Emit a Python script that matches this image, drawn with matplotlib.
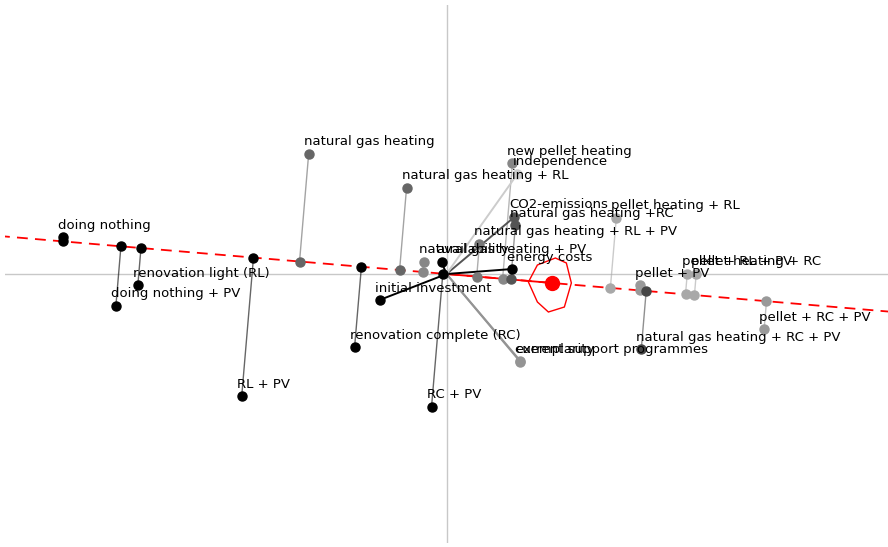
import numpy as np
import matplotlib
matplotlib.use("Agg")
import matplotlib.pyplot as plt

# Alternatives in the GAIA plane
alt_names = [
    "doing nothing", "doing nothing + PV", "renovation light (RL)", "RL + PV",
    "natural gas heating", "renovation complete (RC)", "natural gas heating + RL",
    "natural gas heating + PV", "RC + PV", "natural gas heating + RL + PV",
    "new pellet heating", "natural gas heating +RC", "pellet heating + RL",
    "pellet + PV", "natural gas heating + RC + PV", "pellet + RL + PV",
    "pellet heating + RC", "pellet + RC + PV",
]
alt_x = [-0.960, -0.8275, -0.7725, -0.5125, -0.345, -0.230, -0.100, -0.0575, -0.0375,
         0.0825, 0.165, 0.1725, 0.425, 0.485, 0.4875, 0.6025, 0.625, 0.795]
alt_y = [0.0925, -0.080, -0.0275, -0.305, 0.300, -0.1825, 0.215, 0.030, -0.3325,
         0.075, 0.2775, 0.1225, 0.140, -0.0275, -0.1875, 0.0, 0.0, -0.1375]
alt_gray = [0.0, 0.0, 0.0, 0.0, 0.40, 0.0, 0.40, 0.53, 0.0,
            0.47, 0.53, 0.33, 0.66, 0.60, 0.27, 0.66, 0.66, 0.60]

# Criteria vectors
crit_names = ["initial investment", "energy costs", "availability", "CO2-emissions",
              "independence", "exemplarity", "current support programmes"]
crit_x = [-0.1675, 0.165, -0.0125, 0.170, 0.1775, 0.185, 0.185]
crit_y = [-0.065, 0.0125, 0.030, 0.1425, 0.250, -0.220, -0.2175]
crit_gray = [0.0, 0.0, 0.0, 0.33, 0.80, 0.58, 0.58]

# Decision axis (weights vector) and its stability region
pi_x, pi_y = 0.265, -0.0225
region_x = [0.205, 0.2275, 0.2725, 0.300, 0.3125, 0.295, 0.255, 0.2275]
region_y = [-0.020, 0.0225, 0.040, 0.0275, -0.0225, -0.0825, -0.095, -0.070]

fig = plt.figure(figsize=(8.88, 5.47), dpi=100)
ax = fig.add_axes([5 / 888, 4 / 547, 883 / 888, 538 / 547])
ax.set_xlim(-1.105, 1.105)
ax.set_ylim(-0.6725, 0.6725)
ax.axis("off")

ax.axhline(0, color="#c8c8c8", lw=1, zorder=0)
ax.axvline(0, color="#c8c8c8", lw=1, zorder=0)

# decision axis
d = np.array([pi_x, pi_y])
d = d / np.linalg.norm(d)
t = np.array([-3.0, 3.0])
ax.plot(t * d[0], t * d[1], color="red", lw=1.3, ls=(0, (6, 4)), zorder=1)
ax.plot([0, pi_x], [0, pi_y], color="red", lw=1.3, zorder=2)
ax.fill(region_x, region_y, facecolor="none", edgecolor="red", lw=1, zorder=3)
ax.plot(pi_x, pi_y, "o", color="red", ms=10, zorder=4)

ax_pts = np.column_stack([alt_x, alt_y])
proj = (ax_pts @ d)[:, None] * d[None, :]

lbl = dict(textcoords="offset pixels", xytext=(-5, 12), ha="left", va="center",
           fontsize=9.5, color="black", zorder=10)

for i, name in enumerate(alt_names):
    g = alt_gray[i]
    c = (g, g, g)
    ax.plot([alt_x[i], proj[i, 0]], [alt_y[i], proj[i, 1]], color=c, lw=1,
            alpha=0.6, zorder=2)
    ax.plot(proj[i, 0], proj[i, 1], "o", color=c, ms=6.5, zorder=5)
    ax.plot(alt_x[i], alt_y[i], "o", color=c, ms=6.5, zorder=5)
    ax.annotate(name, (alt_x[i], alt_y[i]), **lbl)

for i, name in enumerate(crit_names):
    g = crit_gray[i]
    c = (g, g, g)
    ax.plot([0, crit_x[i]], [0, crit_y[i]], color=c, lw=1.4, zorder=3)
    ax.plot(crit_x[i], crit_y[i], "o", color=c, ms=6.5, zorder=5)
    ax.annotate(name, (crit_x[i], crit_y[i]), **lbl)

fig.savefig("out.png", dpi=100)
